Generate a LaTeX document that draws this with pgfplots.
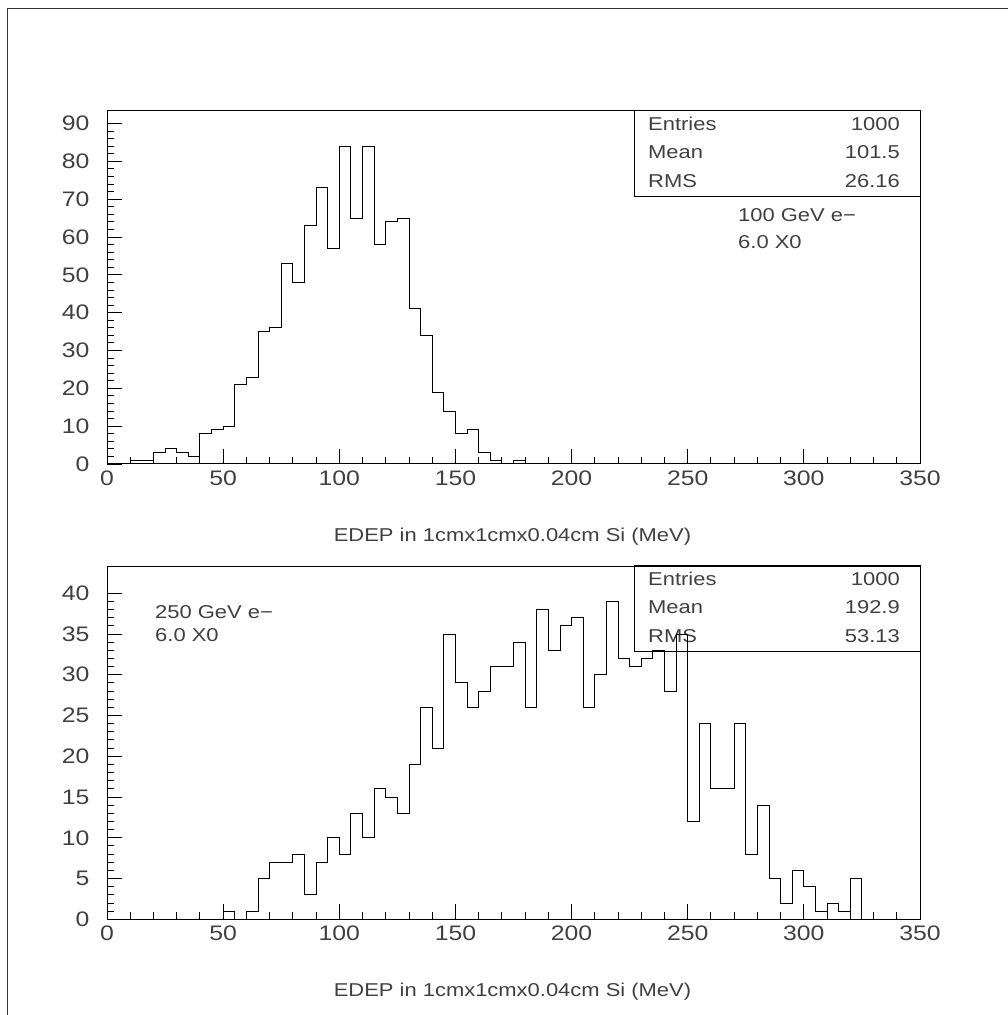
\documentclass[border=0pt]{standalone}
\usepackage{fontspec}
\setmainfont{Liberation Sans}[FakeStretch=1.18]
\usepackage{pgfplots}
\usepackage{pgfplotstable}
\pgfplotsset{compat=1.18}

% bin left edge, entries (5 MeV bins)
\pgfplotstableread[row sep=\\]{
x y\\
0 0\\ 5 0\\ 10 1\\ 15 1\\ 20 3\\ 25 4\\ 30 3\\ 35 2\\ 40 8\\ 45 9\\
50 10\\ 55 21\\ 60 23\\ 65 35\\ 70 36\\ 75 53\\ 80 48\\ 85 63\\ 90 73\\ 95 57\\
100 84\\ 105 65\\ 110 84\\ 115 58\\ 120 64\\ 125 65\\ 130 41\\ 135 34\\ 140 19\\ 145 14\\
150 8\\ 155 9\\ 160 3\\ 165 1\\ 170 0\\ 175 1\\ 180 0\\ 185 0\\ 190 0\\ 195 0\\
200 0\\ 250 0\\ 300 0\\ 350 0\\
}\hundred

\pgfplotstableread[row sep=\\]{
x y\\
0 0\\ 5 0\\ 10 0\\ 15 0\\ 20 0\\ 25 0\\ 30 0\\ 35 0\\ 40 0\\ 45 0\\
50 1\\ 55 0\\ 60 1\\ 65 5\\ 70 7\\ 75 7\\ 80 8\\ 85 3\\ 90 7\\ 95 10\\
100 8\\ 105 13\\ 110 10\\ 115 16\\ 120 15\\ 125 13\\ 130 19\\ 135 26\\ 140 21\\ 145 35\\
150 29\\ 155 26\\ 160 28\\ 165 31\\ 170 31\\ 175 34\\ 180 26\\ 185 38\\ 190 33\\ 195 36\\
200 37\\ 205 26\\ 210 30\\ 215 39\\ 220 32\\ 225 31\\ 230 32\\ 235 33\\ 240 28\\ 245 35\\
250 12\\ 255 24\\ 260 16\\ 265 16\\ 270 24\\ 275 8\\ 280 14\\ 285 5\\ 290 2\\ 295 6\\
300 4\\ 305 1\\ 310 2\\ 315 1\\ 320 5\\ 325 0\\ 330 0\\ 335 0\\ 340 0\\ 345 0\\
350 0\\
}\twofifty

\pgfplotsset{rootaxis/.style={
  scale only axis, width=813pt, height=353pt,
  anchor=south west,
  xmin=0, xmax=350,
  xtick={0,50,...,350},
  axis line style={line width=1pt},
  tick align=inside, xtick pos=bottom, ytick pos=left,
  major tick length=15pt, minor tick length=7pt,
  tick style={black, line width=0.9pt},
  minor x tick num=4, minor y tick num=4,
  tick label style={font=\fontsize{21}{24}\selectfont, text=black!75},
  /pgf/number format/assume math mode=true,
  xticklabel style={yshift=-3pt},
  yticklabel style={xshift=-14pt},
}}

\newcommand{\statbox}[5]{% x0, ytop, entries, mean, rms
  \draw[line width=1pt] (#1pt,#2pt) rectangle (920pt,#2pt-86pt);
  \begin{scope}[every node/.style={font=\fontsize{18.6}{22}\selectfont, text=black!75, inner sep=0pt}]
  \node[anchor=base west] at (648pt,#2pt-20pt) {Entries};
  \node[anchor=base east] at (900pt,#2pt-20pt) {#3};
  \node[anchor=base west] at (648pt,#2pt-48pt) {Mean};
  \node[anchor=base east] at (900pt,#2pt-48pt) {#4};
  \node[anchor=base west] at (648pt,#2pt-77pt) {RMS};
  \node[anchor=base east] at (900pt,#2pt-77pt) {#5};
  \end{scope}
}

\begin{document}
\begin{tikzpicture}[x=1pt,y=1pt]
\useasboundingbox (0,0) rectangle (1008,1015);
\draw[line width=1pt, black!80] (7.3,0) -- (7.3,1006) -- (1008,1006);

\statbox{634}{904.3}{1000}{101.5}{26.16}
\statbox{634}{449}{1000}{192.9}{53.13}

\begin{scope}[every node/.style={font=\fontsize{18.6}{22}\selectfont, text=black!75, inner sep=0pt}]
\node[anchor=base west] at (738,793.3) {100 GeV e−};
\node[anchor=base west] at (738,766.7) {6.0 X0};
\node[anchor=base west] at (155,396.7) {250 GeV e−};
\node[anchor=base west] at (155,373.3) {6.0 X0};
\node[anchor=base] at (512.5,473) {EDEP in 1cmx1cmx0.04cm Si (MeV)};
\node[anchor=base] at (512.5,18) {EDEP in 1cmx1cmx0.04cm Si (MeV)};
\end{scope}

\begin{axis}[rootaxis, at={(107pt,551pt)},
  ymin=0, ymax=93.3, ytick={0,10,...,90}]
\addplot[const plot, black, line width=0.9pt] table {\hundred};
\end{axis}

\begin{axis}[rootaxis, at={(107pt,95.7pt)},
  ymin=0, ymax=43.3, ytick={0,5,...,40}]
\addplot[const plot, black, line width=0.9pt] table {\twofifty};
\end{axis}
\end{tikzpicture}
\end{document}
